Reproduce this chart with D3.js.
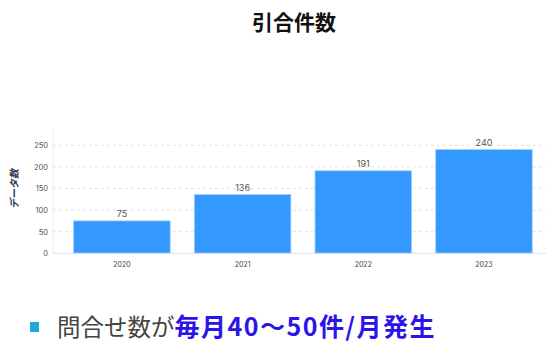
<!DOCTYPE html>
<html><head><meta charset="utf-8">
<script src="https://cdn.jsdelivr.net/npm/d3@7"></script>
<style>body{margin:0;background:#fff}svg{display:block}</style>
</head><body>
<svg id="c" width="548" height="347"></svg>
<script>
const categories = ["2020","2021","2022","2023"];
const values = [75,136,191,240];
const yTicks = [0,50,100,150,200,250];
const title = "引合件数";
const yTitle = "データ数";
const noteGray = "問合せ数が";
const noteBlue = "毎月40～50件/月発生";

const svg = d3.select("#c");
const L=53, R=546, T=128, B=253.3;
const x = d3.scaleBand().domain(categories).range([L,R]).paddingInner(0.2).paddingOuter(0.1425).align(0.6);
const y = d3.scaleLinear().domain([0,250]).range([B,145.3]);

svg.append("text").attr("x",294).attr("y",30).attr("text-anchor","middle")
  .attr("font-family","'Noto Sans CJK JP'").attr("font-weight","bold").attr("font-size",21).attr("fill","#111").text(title);

// grid
svg.append("g").selectAll("line").data(yTicks.filter(d=>d>0)).join("line")
  .attr("x1",L).attr("x2",R).attr("y1",d=>y(d)).attr("y2",d=>y(d))
  .attr("stroke","#e4e4e4").attr("stroke-dasharray","3,3").attr("stroke-width",1);
// left axis line
svg.append("line").attr("x1",L).attr("x2",L).attr("y1",T).attr("y2",B).attr("stroke","#ececec");

const ya = d3.axisLeft(y).tickValues(yTicks).tickSize(0).tickPadding(5);
const gy = svg.append("g").attr("transform",`translate(${L},0)`).call(ya);
gy.select(".domain").remove();
gy.selectAll("text").attr("font-family","Inter, sans-serif").attr("font-size",7.5).attr("fill","#555");

svg.append("g").selectAll("rect").data(values).join("rect")
  .attr("x",(d,i)=>x(categories[i])).attr("width",x.bandwidth())
  .attr("y",d=>y(d)).attr("height",d=>B-y(d))
  .attr("fill","#3399ff").attr("stroke","#9fcdff").attr("stroke-width",0.8);

svg.append("g").selectAll("text").data(values).join("text")
  .attr("x",(d,i)=>x(categories[i])+x.bandwidth()/2).attr("y",d=>y(d)-4)
  .attr("text-anchor","middle").attr("font-family","Inter, sans-serif").attr("font-size",9).attr("fill","#555").text(d=>d);

// x axis
svg.append("line").attr("x1",L).attr("x2",R).attr("y1",B).attr("y2",B).attr("stroke","#dcdff0").attr("stroke-width",1);
const xa = d3.axisBottom(x).tickSize(0).tickPadding(9);
const gx = svg.append("g").attr("transform",`translate(0,${B})`).call(xa);
gx.select(".domain").remove();
gx.selectAll("text").attr("font-family","Inter, sans-serif").attr("font-size",7).attr("fill","#444");

svg.append("text").attr("transform","translate(18,189) rotate(-90)").attr("text-anchor","middle")
  .attr("font-family","'Noto Sans CJK JP'").attr("font-weight","bold").attr("font-style","italic").attr("font-size",10).attr("fill","#2d3a4f").text(yTitle);

// bottom note
svg.append("rect").attr("x",30).attr("y",322).attr("width",9).attr("height",10).attr("fill","#1fa8e0");
const t = svg.append("text").attr("x",57).attr("y",336).attr("font-family","'Noto Sans CJK JP'");
t.append("tspan").attr("font-size",23.5).attr("fill","#444").text(noteGray);
t.append("tspan").attr("font-size",25).attr("font-weight","bold").attr("fill","#2a14ea").attr("textLength",260).attr("lengthAdjust","spacing").text(noteBlue);
</script>
</body></html>
